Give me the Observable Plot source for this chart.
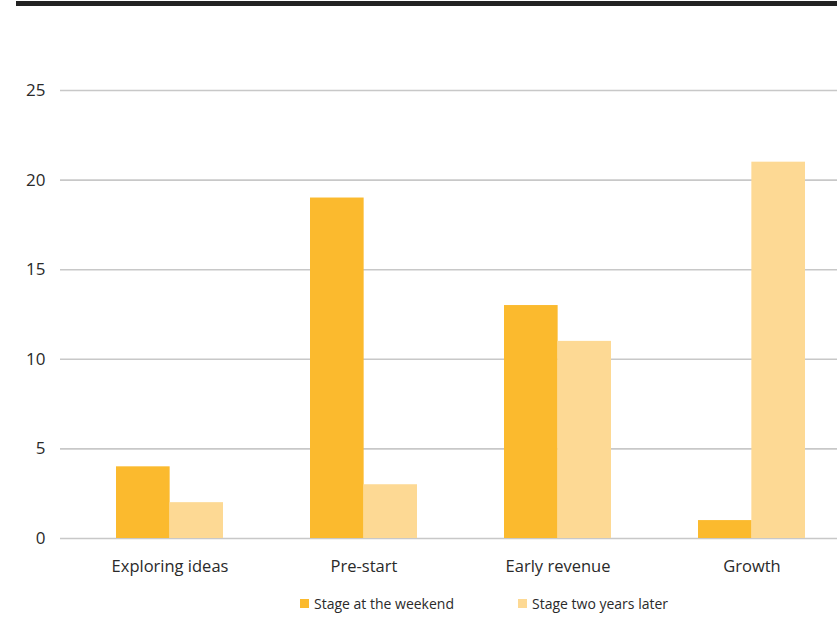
<!DOCTYPE html>
<html><head><meta charset="utf-8">
<script src="https://cdn.jsdelivr.net/npm/d3@7"></script>
<script src="https://cdn.jsdelivr.net/npm/@observablehq/plot@0.6"></script>
<style>
html,body{margin:0;padding:0;background:#fff;width:837px;height:617px;overflow:hidden;font-family:"Open Sans",sans-serif;}
#topbar{position:absolute;left:16px;top:1px;width:821px;height:5px;background:#222;}
#chart{position:absolute;left:0;top:0;}
#legend{position:absolute;top:594px;left:0;width:837px;font-size:14px;color:#2a2a2a;}
.item{position:absolute;display:flex;align-items:center;white-space:nowrap;}
.sw{width:9px;height:9px;margin-right:5px;}
</style></head>
<body>
<div id="topbar"></div>
<div id="chart"></div>
<div id="legend"></div>
<script>
const categories = ["Exploring ideas", "Pre-start", "Early revenue", "Growth"];
const seriesNames = ["Stage at the weekend", "Stage two years later"];
const weekend = [4, 19, 13, 1];
const twoYears = [2, 3, 11, 21];
const yTicks = [0, 5, 10, 15, 20, 25];
const colors = ["#FBBA2E", "#FDD994"];

const dataA = categories.map((c, i) => ({category: c, value: weekend[i]}));
const dataB = categories.map((c, i) => ({category: c, value: twoYears[i]}));

const xRange = [72, 848];
const step = (xRange[1] - xRange[0]) / categories.length;
const half = step * 0.55 / 2;

const plot = Plot.plot({
  width: 837,
  height: 590,
  marginTop: 90,
  marginBottom: 52,
  marginLeft: 60,
  marginRight: 0,
  style: {fontFamily: "'Open Sans', sans-serif", color: "#2a2a2a", background: "transparent"},
  x: {domain: categories, range: xRange, paddingInner: 0.45, paddingOuter: 0.225, label: null},
  y: {domain: [0, 25], label: null},
  marks: [
    Plot.ruleY(yTicks, {stroke: "#c8c8c8", strokeWidth: 1.6}),
    Plot.barY(dataA, {x: "category", y: "value", fill: colors[0], insetRight: half}),
    Plot.barY(dataB, {x: "category", y: "value", fill: colors[1], insetLeft: half}),
    Plot.axisY(yTicks, {tickSize: 0, tickPadding: 15, fontSize: 17, label: null}),
    Plot.axisX({tickSize: 0, tickPadding: 22, fontSize: 16.5, label: null})
  ]
});
document.getElementById("chart").appendChild(plot);

const legend = document.getElementById("legend");
const lefts = [300, 518];
seriesNames.forEach((n, i) => {
  const d = document.createElement("div");
  d.className = "item";
  d.style.left = lefts[i] + "px";
  d.innerHTML = `<span class="sw" style="background:${colors[i]}"></span><span>${n}</span>`;
  legend.appendChild(d);
});
</script>
</body></html>
